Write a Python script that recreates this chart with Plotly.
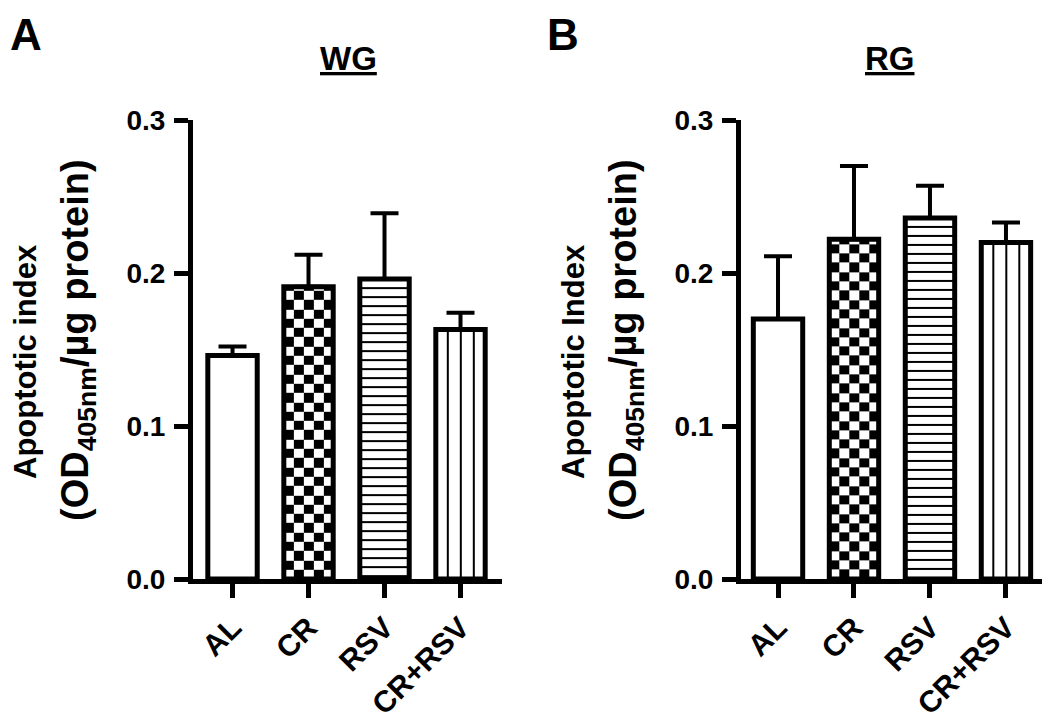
import numpy as np
import plotly.graph_objects as go

# ---------------- data ----------------
categories = ["AL", "CR", "RSV", "CR+RSV"]
wg_mean = [0.146, 0.191, 0.196, 0.163]
wg_err = [0.006, 0.021, 0.043, 0.011]
rg_mean = [0.170, 0.222, 0.236, 0.220]
rg_err = [0.041, 0.048, 0.021, 0.013]
y_tick_vals = [0.0, 0.1, 0.2, 0.3]
y_tick_text = ["0.0", "0.1", "0.2", "0.3"]
panel_titles = ["WG", "RG"]
panel_letters = ["A", "B"]
y_title_line1 = ["Apoptotic index", "Apoptotic Index"]
y_title_line2 = "(OD<sub>405nm</sub>/µg protein)"

# ---------------- style / layout constants ----------------
textures = ["none", "checker", "hlines", "vlines"]
OFF = 8                      # default page body margin
W, H = 1050 - OFF, 726 - OFF
FONT = "Liberation Sans, Arial, Helvetica, sans-serif"
BAR_W = 0.65
LW = 5


def fx(px):
    return (px - OFF) / W


def fy(py):
    return 1 - (py - OFF) / H


x_dom = [[fx(193), fx(502)], [fx(741), fx(1047)]]
x_rng = [[-0.52, 3.546], [-0.487, 3.54]]
y_dom = [fy(579), fy(120)]
PX_PER_UNIT_Y = (579 - 120) / 0.3
PX_PER_UNIT_X = 76.3

fig = go.Figure()
xs = list(range(len(categories)))
BW = [[0, "white"], [1, "black"]]


def texture_trace(kind, xc, top, xa, ya):
    left, right = xc - BAR_W / 2, xc + BAR_W / 2
    if kind == "checker":
        ncols = 5
        xe = np.linspace(left, right, ncols + 1)
        cy = 9.3 / PX_PER_UNIT_Y
        ye = list(np.arange(0, top, cy)) + [top]
        z = [[(r + c) % 2 for c in range(ncols)] for r in range(len(ye) - 1)]
    elif kind == "hlines":
        per = 9.0 / PX_PER_UNIT_Y
        lw = 2.0 / PX_PER_UNIT_Y
        ye = [0.0]
        z = []
        k = top - per
        marks = []
        while k > 0:
            marks.append(k)
            k -= per
        marks = sorted(marks)
        for m in marks:
            ye += [m - lw / 2, m + lw / 2]
            z += [[0], [1]]
        ye.append(top)
        z.append([0])
        xe = [left, right]
    elif kind == "vlines":
        sp = 13.0 / PX_PER_UNIT_X
        lw = 2.2 / PX_PER_UNIT_X
        xe = [left]
        row = []
        for off in (-1, 0, 1):
            c = xc + off * sp
            xe += [c - lw / 2, c + lw / 2]
            row += [0, 1]
        xe.append(right)
        row.append(0)
        ye = [0, top]
        z = [row]
    else:
        return None
    return go.Heatmap(
        x=xe, y=ye, z=z, xaxis=xa, yaxis=ya, colorscale=BW, zmin=0, zmax=1,
        showscale=False, hoverinfo="skip", zsmooth=False,
    )


panels = [(wg_mean, wg_err), (rg_mean, rg_err)]
for p, (means, errs) in enumerate(panels):
    xa = "x" if p == 0 else "x2"
    ya = "y" if p == 0 else "y2"
    for i, kind in enumerate(textures):
        tr = texture_trace(kind, xs[i], means[i], xa, ya)
        if tr is not None:
            fig.add_trace(tr)

    colors = ["white" if t == "none" else "rgba(0,0,0,0)" for t in textures]
    fig.add_trace(go.Bar(
        x=xs, y=means, width=BAR_W, xaxis=xa, yaxis=ya,
        marker=dict(color=colors, line=dict(color="black", width=LW)),
        error_y=dict(type="data", symmetric=False, array=errs,
                     arrayminus=[0] * len(errs), color="black",
                     thickness=4, width=14),
        showlegend=False, hoverinfo="skip",
    ))

axis_common = dict(
    showline=True, linewidth=LW, linecolor="black", ticks="outside",
    ticklen=14, tickwidth=LW, tickcolor="black", showgrid=False,
    zeroline=False, automargin=False,
)
for p in range(2):
    sfx = "" if p == 0 else "2"
    fig.layout["xaxis" + sfx] = dict(
        axis_common, domain=x_dom[p], range=x_rng[p], anchor="y" + sfx,
        tickmode="array", tickvals=xs, ticktext=categories, tickangle=-45,
        tickfont=dict(family=FONT, size=30, color="black", weight="bold"),
    )
    fig.layout["yaxis" + sfx] = dict(
        axis_common, domain=y_dom, range=[0, 0.3], anchor="x" + sfx,
        tickmode="array", tickvals=y_tick_vals, ticktext=y_tick_text,
        tickfont=dict(family=FONT, size=28, color="black", weight="bold"),
        ticklabelstandoff=3,
    )

annotations = []
letter_x = [0.0, fx(545)]
title_x = [348, 890]
axis_px = [193, 741]
for p in range(2):
    annotations.append(dict(
        text=panel_letters[p], x=letter_x[p], y=1.0,
        xref="paper", yref="paper", showarrow=False,
        xanchor="left", yanchor="top",
        font=dict(family=FONT, size=44, color="black", weight="bold"),
    ))
    annotations.append(dict(
        text=panel_titles[p], x=fx(title_x[p]), y=fy(58),
        xref="paper", yref="paper", showarrow=False,
        xanchor="center", yanchor="middle",
        font=dict(family=FONT, size=33, color="black", weight="bold",
                  lineposition="under"),
    ))
    annotations.append(dict(
        text=y_title_line1[p], x=fx(axis_px[p] - 168), y=fy(362),
        xref="paper", yref="paper", showarrow=False, textangle=-90,
        xanchor="center", yanchor="middle",
        font=dict(family=FONT, size=31, color="black", weight="bold"),
    ))
    annotations.append(dict(
        text=y_title_line2, x=fx(axis_px[p] - 115), y=fy(340),
        xref="paper", yref="paper", showarrow=False, textangle=-90,
        xanchor="center", yanchor="middle",
        font=dict(family=FONT, size=38, color="black", weight="bold"),
    ))

fig.update_layout(
    width=W, height=H, autosize=False,
    margin=dict(l=0, r=0, t=0, b=0),
    paper_bgcolor="white", plot_bgcolor="white",
    annotations=annotations, barmode="overlay", showlegend=False,
)

fig.write_html("out.html")
